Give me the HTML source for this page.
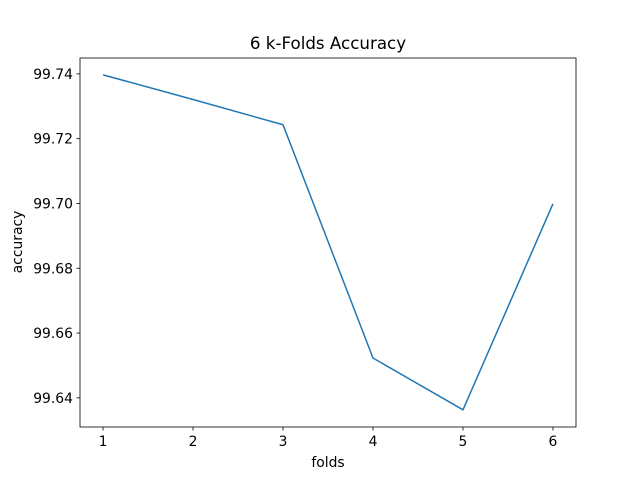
<!DOCTYPE html>
<html><head><meta charset="utf-8"><style>
body{margin:0;background:#fff;}
svg text{font-family:"DejaVu Sans","Liberation Sans",sans-serif;fill:#000;}
</style></head><body>
<svg id="chart" width="640" height="480" xmlns="http://www.w3.org/2000/svg">
<rect width="640" height="480" fill="#fff"/>
<text x="328" y="49" font-size="16.7" text-anchor="middle">6 k-Folds Accuracy</text>
<g id="plot"></g>
<rect x="80" y="58" width="496" height="369" fill="none" stroke="#000" stroke-width="0.8"/>
<text x="328" y="467" font-size="13.9" text-anchor="middle">folds</text>
<text x="22" y="242" font-size="13.9" text-anchor="middle" transform="rotate(-90 22 242)">accuracy</text>
</svg>
<script>
const folds = [1, 2, 3, 4, 5, 6];
const accuracy = [99.7397, 99.7321, 99.7243, 99.6523, 99.6363, 99.6999];
const xTicks = [1, 2, 3, 4, 5, 6];
const yTicks = [99.64, 99.66, 99.68, 99.70, 99.72, 99.74];
const x0=80,x1=576,y0=58,y1=427;
const xmin=0.744,xmax=6.256,ymin=99.6310,ymax=99.7449;
function sx(v){return x0+(v-xmin)/(xmax-xmin)*(x1-x0);}
function sy(v){return y1-(v-ymin)/(ymax-ymin)*(y1-y0);}
const NS="http://www.w3.org/2000/svg";
const g=document.getElementById('plot');
function mk(t,a){const e=document.createElementNS(NS,t);for(const k in a)e.setAttribute(k,a[k]);g.appendChild(e);return e;}
xTicks.forEach(t=>{
  const l=mk('line',{x1:sx(t),x2:sx(t),y1:y1,y2:y1+3.5,stroke:'#000','stroke-width':0.8});
  
  
  const tx=mk('text',{x:sx(t),y:y1+19,'font-size':13.9,'text-anchor':'middle'});
  tx.textContent=t;
  
  
});
yTicks.forEach(t=>{
  const l=mk('line',{x1:x0-3.5,x2:x0,y1:sy(t),y2:sy(t),stroke:'#000','stroke-width':0.8});
  
  
  const tx=mk('text',{x:x0-7,y:sy(t)+5,'font-size':13.9,'text-anchor':'end'});
  tx.textContent=t.toFixed(2);
  
  
});
const pts=folds.map((f,i)=>sx(f)+','+sy(accuracy[i])).join(' ');
const pl=mk('polyline',{points:pts,fill:'none',stroke:'#1f77b4','stroke-width':1.5,'stroke-linejoin':'round'});


</script>
</body></html>
